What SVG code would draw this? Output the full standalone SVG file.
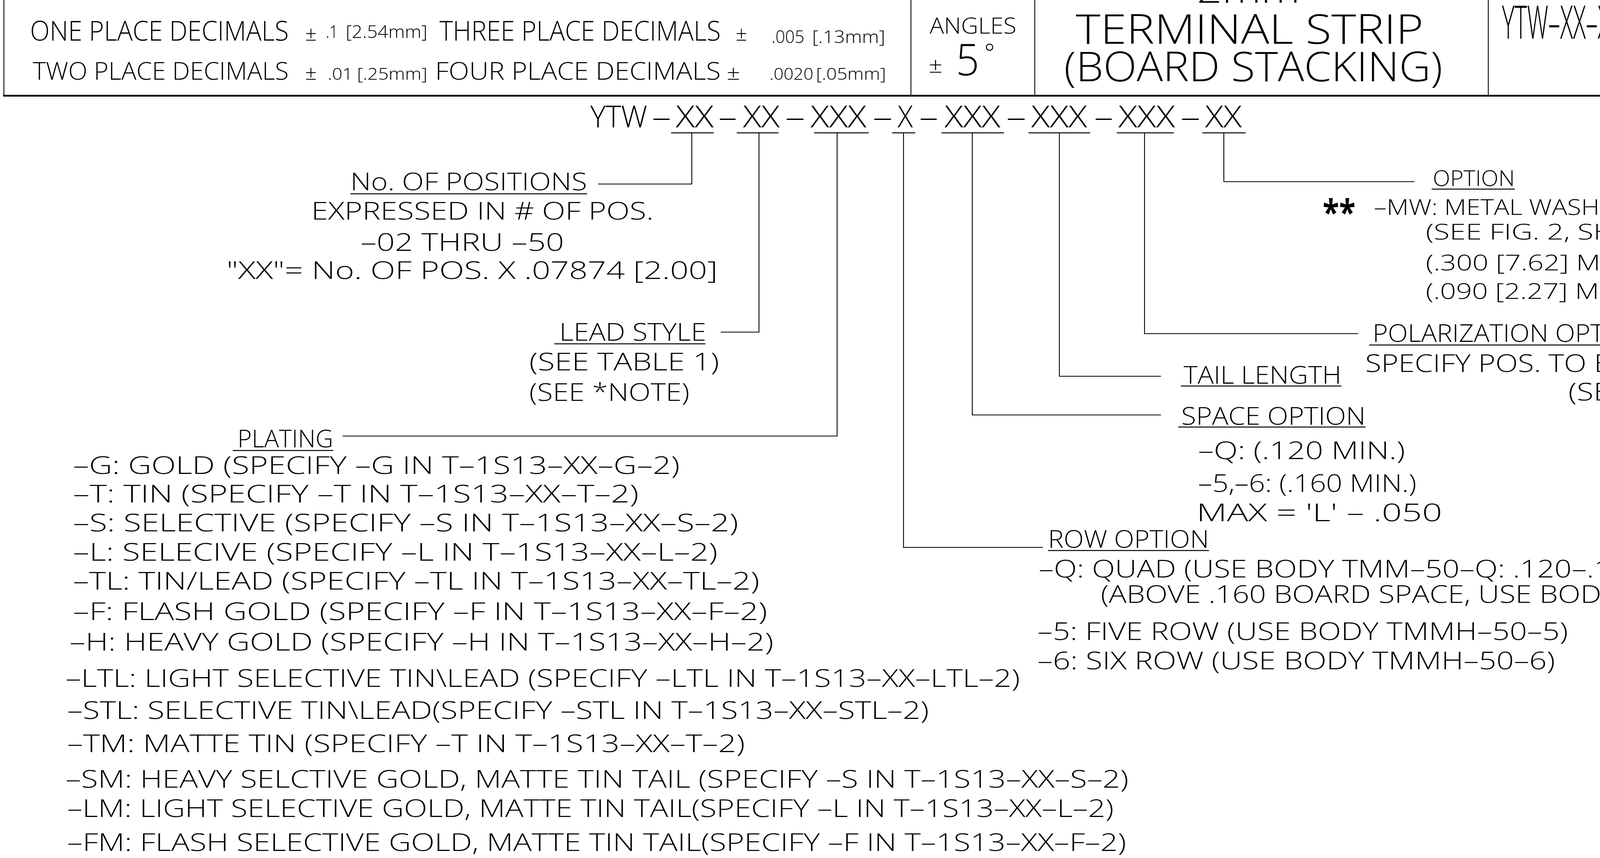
<svg xmlns="http://www.w3.org/2000/svg" width="4765" height="2196" viewBox="0 0 4765 2196">
<style>
text{font-family:"Open Sans","Liberation Sans",sans-serif;font-weight:300;fill:#000}
.b{font-size:62px}
.s{font-size:55px}
.ln{stroke:#000;stroke-width:2.2;fill:none}
.ul{stroke:#000;stroke-width:2.6;fill:none}
.thick{stroke:#000;stroke-width:4.5;fill:none}
</style>
<rect x="0" y="0" width="4765" height="2196" fill="#fff"/>

<g id="title-block">
  <line class="ln" x1="10" y1="0" x2="10" y2="245"/>
  <line class="ln" x1="2332" y1="0" x2="2332" y2="245"/>
  <line class="ln" x1="2649" y1="0" x2="2649" y2="245"/>
  <line class="ln" x1="3810" y1="0" x2="3810" y2="245"/>
  <line class="thick" x1="8" y1="245" x2="4765" y2="245"/>
  <text x="77" y="104" style="font-size:70px" textLength="662" lengthAdjust="spacingAndGlyphs">ONE PLACE DECIMALS</text>
  <text x="781" y="104" style="font-size:52px" textLength="30" lengthAdjust="spacingAndGlyphs">±</text>
  <text x="834" y="97" style="font-size:45px" textLength="31" lengthAdjust="spacingAndGlyphs">.1</text>
  <text x="885" y="97" style="font-size:45px" textLength="209" lengthAdjust="spacingAndGlyphs">[2.54mm]</text>
  <text x="1125" y="104" style="font-size:70px" textLength="720" lengthAdjust="spacingAndGlyphs">THREE PLACE DECIMALS</text>
  <text x="1883" y="104" style="font-size:52px" textLength="30" lengthAdjust="spacingAndGlyphs">±</text>
  <text x="1975" y="110" style="font-size:45px" textLength="84" lengthAdjust="spacingAndGlyphs">.005</text>
  <text x="2079" y="110" style="font-size:45px" textLength="187" lengthAdjust="spacingAndGlyphs">[.13mm]</text>
  <text x="84" y="204" style="font-size:62px" textLength="655" lengthAdjust="spacingAndGlyphs">TWO PLACE DECIMALS</text>
  <text x="781" y="204" style="font-size:52px" textLength="30" lengthAdjust="spacingAndGlyphs">±</text>
  <text x="839" y="204" style="font-size:42px" textLength="64" lengthAdjust="spacingAndGlyphs">.01</text>
  <text x="914" y="204" style="font-size:42px" textLength="180" lengthAdjust="spacingAndGlyphs">[.25mm]</text>
  <text x="1114" y="204" style="font-size:62px" textLength="731" lengthAdjust="spacingAndGlyphs">FOUR PLACE DECIMALS</text>
  <text x="1860" y="204" style="font-size:52px" textLength="35" lengthAdjust="spacingAndGlyphs">±</text>
  <text x="1970" y="204" style="font-size:42px" textLength="112" lengthAdjust="spacingAndGlyphs">.0020</text>
  <text x="2089" y="204" style="font-size:42px" textLength="179" lengthAdjust="spacingAndGlyphs">[.05mm]</text>
  <text x="2380" y="86" style="font-size:57px" textLength="222" lengthAdjust="spacingAndGlyphs">ANGLES</text>
  <text x="2377" y="186" style="font-size:56px" textLength="36" lengthAdjust="spacingAndGlyphs">±</text>
  <text x="2447" y="193" style="font-size:112px" textLength="60" lengthAdjust="spacingAndGlyphs">5</text>
  <text x="2520" y="157" style="font-size:62px">°</text>
  <text x="3064" y="7" style="font-size:90px" textLength="264" lengthAdjust="spacingAndGlyphs">2mm</text>
  <text x="2754" y="112" style="font-size:105px" textLength="890" lengthAdjust="spacingAndGlyphs">TERMINAL STRIP</text>
  <text x="2724" y="208" style="font-size:105px" textLength="969" lengthAdjust="spacingAndGlyphs">(BOARD STACKING)</text>
  <text x="3845" y="99" style="font-size:118px" textLength="920" lengthAdjust="spacingAndGlyphs">YTW–XX–XX–XXX–X–XXX–XXX–XXX–</text>
  <text x="4364" y="222" style="font-size:59px" textLength="185" lengthAdjust="spacingAndGlyphs">SHEET</text>
  <text x="4594" y="222" style="font-size:77px" textLength="34" lengthAdjust="spacingAndGlyphs">1</text>
  <text x="4655" y="222" style="font-size:59px" textLength="92" lengthAdjust="spacingAndGlyphs">OF</text>
</g>

<g id="part-number" style="font-size:78px">
  <text x="1511" y="326" textLength="146" lengthAdjust="spacingAndGlyphs">YTW</text>
  <text x="1669" y="326" textLength="49" lengthAdjust="spacingAndGlyphs">–</text>
  <text x="1730" y="326" textLength="97" lengthAdjust="spacingAndGlyphs">XX</text>
  <text x="1839" y="326" textLength="48" lengthAdjust="spacingAndGlyphs">–</text>
  <text x="1902" y="326" textLength="94" lengthAdjust="spacingAndGlyphs">XX</text>
  <text x="2010" y="326" textLength="51" lengthAdjust="spacingAndGlyphs">–</text>
  <text x="2075" y="326" textLength="143" lengthAdjust="spacingAndGlyphs">XXX</text>
  <text x="2234" y="326" textLength="51" lengthAdjust="spacingAndGlyphs">–</text>
  <text x="2298" y="326" textLength="39" lengthAdjust="spacingAndGlyphs">X</text>
  <text x="2353" y="326" textLength="49" lengthAdjust="spacingAndGlyphs">–</text>
  <text x="2418" y="326" textLength="143" lengthAdjust="spacingAndGlyphs">XXX</text>
  <text x="2576" y="326" textLength="51" lengthAdjust="spacingAndGlyphs">–</text>
  <text x="2640" y="326" textLength="143" lengthAdjust="spacingAndGlyphs">XXX</text>
  <text x="2801" y="326" textLength="49" lengthAdjust="spacingAndGlyphs">–</text>
  <text x="2863" y="326" textLength="145" lengthAdjust="spacingAndGlyphs">XXX</text>
  <text x="3022" y="326" textLength="51" lengthAdjust="spacingAndGlyphs">–</text>
  <text x="3085" y="326" textLength="94" lengthAdjust="spacingAndGlyphs">XX</text>
  <line class="ul" x1="1718" y1="340" x2="1827" y2="340"/>
  <line class="ul" x1="1886" y1="340" x2="1993" y2="340"/>
  <line class="ul" x1="2084" y1="340" x2="2224" y2="340"/>
  <line class="ul" x1="2284" y1="340" x2="2343" y2="340"/>
  <line class="ul" x1="2410" y1="340" x2="2570" y2="340"/>
  <line class="ul" x1="2633" y1="340" x2="2791" y2="340"/>
  <line class="ul" x1="2859" y1="340" x2="3005" y2="340"/>
  <line class="ul" x1="3078" y1="340" x2="3189" y2="340"/>
</g>

<g id="connectors">
  <polyline class="ln" points="1771,340 1771,471 1531,471"/>
  <polyline class="ln" points="1943,340 1943,850 1845,850"/>
  <polyline class="ln" points="2143,340 2143,1116 877,1116"/>
  <polyline class="ln" points="2313,340 2313,1401 2670,1401"/>
  <polyline class="ln" points="2489,340 2489,1062 2972,1062"/>
  <polyline class="ln" points="2712,340 2712,963 2972,963"/>
  <polyline class="ln" points="2930,340 2930,854 3477,854"/>
  <polyline class="ln" points="3133,340 3133,465 3621,465"/>
</g>

<g id="positions" class="b">
  <text x="897" y="487" textLength="606" lengthAdjust="spacingAndGlyphs">No. OF POSITIONS</text>
  <line class="ul" x1="897" y1="496" x2="1503" y2="496"/>
  <text x="797" y="562" textLength="876" lengthAdjust="spacingAndGlyphs">EXPRESSED IN # OF POS.</text>
  <text x="923" y="642" textLength="521" lengthAdjust="spacingAndGlyphs">–02 THRU –50</text>
  <text x="580" y="714" textLength="1257" lengthAdjust="spacingAndGlyphs">"XX"= No. OF POS. X .07874 [2.00]</text>
</g>

<g id="lead-style" class="b">
  <text x="1432" y="872" textLength="376" lengthAdjust="spacingAndGlyphs">LEAD STYLE</text>
  <line class="ul" x1="1419" y1="880" x2="1806" y2="880"/>
  <text x="1355" y="948" textLength="486" lengthAdjust="spacingAndGlyphs">(SEE TABLE 1)</text>
  <text x="1355" y="1026" textLength="410" lengthAdjust="spacingAndGlyphs">(SEE *NOTE)</text>
</g>

<g id="plating" class="b">
  <text x="608" y="1145" textLength="245" lengthAdjust="spacingAndGlyphs">PLATING</text>
  <line class="ul" x1="596" y1="1153" x2="853" y2="1153"/>
  <text x="187" y="1213" textLength="1553" lengthAdjust="spacingAndGlyphs">–G: GOLD (SPECIFY –G IN T–1S13–XX–G–2)</text>
  <text x="187" y="1286" textLength="1448" lengthAdjust="spacingAndGlyphs">–T: TIN (SPECIFY –T IN T–1S13–XX–T–2)</text>
  <text x="187" y="1360" textLength="1703" lengthAdjust="spacingAndGlyphs">–S: SELECTIVE (SPECIFY –S IN T–1S13–XX–S–2)</text>
  <text x="187" y="1435" textLength="1650" lengthAdjust="spacingAndGlyphs">–L: SELECIVE (SPECIFY –L IN T–1S13–XX–L–2)</text>
  <text x="187" y="1509" textLength="1757" lengthAdjust="spacingAndGlyphs">–TL: TIN/LEAD (SPECIFY –TL IN T–1S13–XX–TL–2)</text>
  <text x="187" y="1587" textLength="1777" lengthAdjust="spacingAndGlyphs">–F: FLASH GOLD (SPECIFY –F IN T–1S13–XX–F–2)</text>
  <text x="178" y="1665" textLength="1802" lengthAdjust="spacingAndGlyphs">–H: HEAVY GOLD (SPECIFY –H IN T–1S13–XX–H–2)</text>
  <text x="168" y="1758" textLength="2443" lengthAdjust="spacingAndGlyphs">–LTL: LIGHT SELECTIVE TIN\LEAD (SPECIFY –LTL IN T–1S13–XX–LTL–2)</text>
  <text x="172" y="1840" textLength="2206" lengthAdjust="spacingAndGlyphs">–STL: SELECTIVE TIN\LEAD(SPECIFY –STL IN T–1S13–XX–STL–2)</text>
  <text x="172" y="1925" textLength="1735" lengthAdjust="spacingAndGlyphs">–TM: MATTE TIN (SPECIFY –T IN T–1S13–XX–T–2)</text>
  <text x="168" y="2016" textLength="2721" lengthAdjust="spacingAndGlyphs">–SM: HEAVY SELCTIVE GOLD, MATTE TIN TAIL (SPECIFY –S IN T–1S13–XX–S–2)</text>
  <text x="172" y="2091" textLength="2679" lengthAdjust="spacingAndGlyphs">–LM: LIGHT SELECTIVE GOLD, MATTE TIN TAIL(SPECIFY –L IN T–1S13–XX–L–2)</text>
  <text x="172" y="2178" textLength="2711" lengthAdjust="spacingAndGlyphs">–FM: FLASH SELECTIVE GOLD, MATTE TIN TAIL(SPECIFY –F IN T–1S13–XX–F–2)</text>
</g>

<g id="row-option" class="b">
  <text x="2683" y="1402" textLength="412" lengthAdjust="spacingAndGlyphs">ROW OPTION</text>
  <line class="ul" x1="2683" y1="1409" x2="3095" y2="1409"/>
  <text x="2659" y="1478" textLength="2094" lengthAdjust="spacingAndGlyphs">–Q: QUAD (USE BODY TMM–50–Q: .120–.160 BOARD SPACE)</text>
  <text x="2818" y="1543" textLength="1805" lengthAdjust="spacingAndGlyphs">(ABOVE .160 BOARD SPACE, USE BODY TMMH–50–Q)</text>
  <text x="2656" y="1638" textLength="1358" lengthAdjust="spacingAndGlyphs">–5: FIVE ROW (USE BODY TMMH–50–5)</text>
  <text x="2656" y="1713" textLength="1325" lengthAdjust="spacingAndGlyphs">–6: SIX ROW (USE BODY TMMH–50–6)</text>
</g>

<g id="space-option" class="b">
  <text x="3024" y="1087" textLength="472" lengthAdjust="spacingAndGlyphs">SPACE OPTION</text>
  <line class="ul" x1="3016" y1="1093" x2="3496" y2="1093"/>
  <text x="3067" y="1175" textLength="530" lengthAdjust="spacingAndGlyphs">–Q: (.120 MIN.)</text>
  <text x="3067" y="1259" textLength="559" lengthAdjust="spacingAndGlyphs">–5,–6: (.160 MIN.)</text>
  <text x="3063" y="1334" textLength="629" lengthAdjust="spacingAndGlyphs">MAX = 'L' – .050</text>
</g>

<g id="tail-length" class="b">
  <text x="3030" y="982" textLength="404" lengthAdjust="spacingAndGlyphs">TAIL LENGTH</text>
  <line class="ul" x1="3023" y1="988" x2="3434" y2="988"/>
</g>

<g id="polarization-option" class="b">
  <text x="3514" y="875" textLength="708" lengthAdjust="spacingAndGlyphs">POLARIZATION OPTION</text>
  <line class="ul" x1="3505" y1="883" x2="4222" y2="883"/>
  <text x="3495" y="952" textLength="1041" lengthAdjust="spacingAndGlyphs">SPECIFY POS. TO BE REMOVED</text>
  <text x="4015" y="1025" textLength="521" lengthAdjust="spacingAndGlyphs">(SEE FIGURE 1)</text>
</g>

<g id="option" class="s">
  <text x="3668" y="476" textLength="210" lengthAdjust="spacingAndGlyphs">OPTION</text>
  <line class="ul" x1="3665" y1="484" x2="3878" y2="484"/>
  <text x="3386" y="575" style="font-size:90px;font-weight:700" textLength="84" lengthAdjust="spacingAndGlyphs">**</text>
  <text x="3517" y="550" textLength="653" lengthAdjust="spacingAndGlyphs">–MW: METAL WASHER</text>
  <text x="3650" y="613" textLength="622" lengthAdjust="spacingAndGlyphs">(SEE FIG. 2, SHT. 3)</text>
  <text x="3650" y="692" textLength="704" lengthAdjust="spacingAndGlyphs">(.300 [7.62] MAX TAIL)</text>
  <text x="3650" y="765" textLength="704" lengthAdjust="spacingAndGlyphs">(.090 [2.27] MIN. TAIL)</text>
</g>
</svg>
